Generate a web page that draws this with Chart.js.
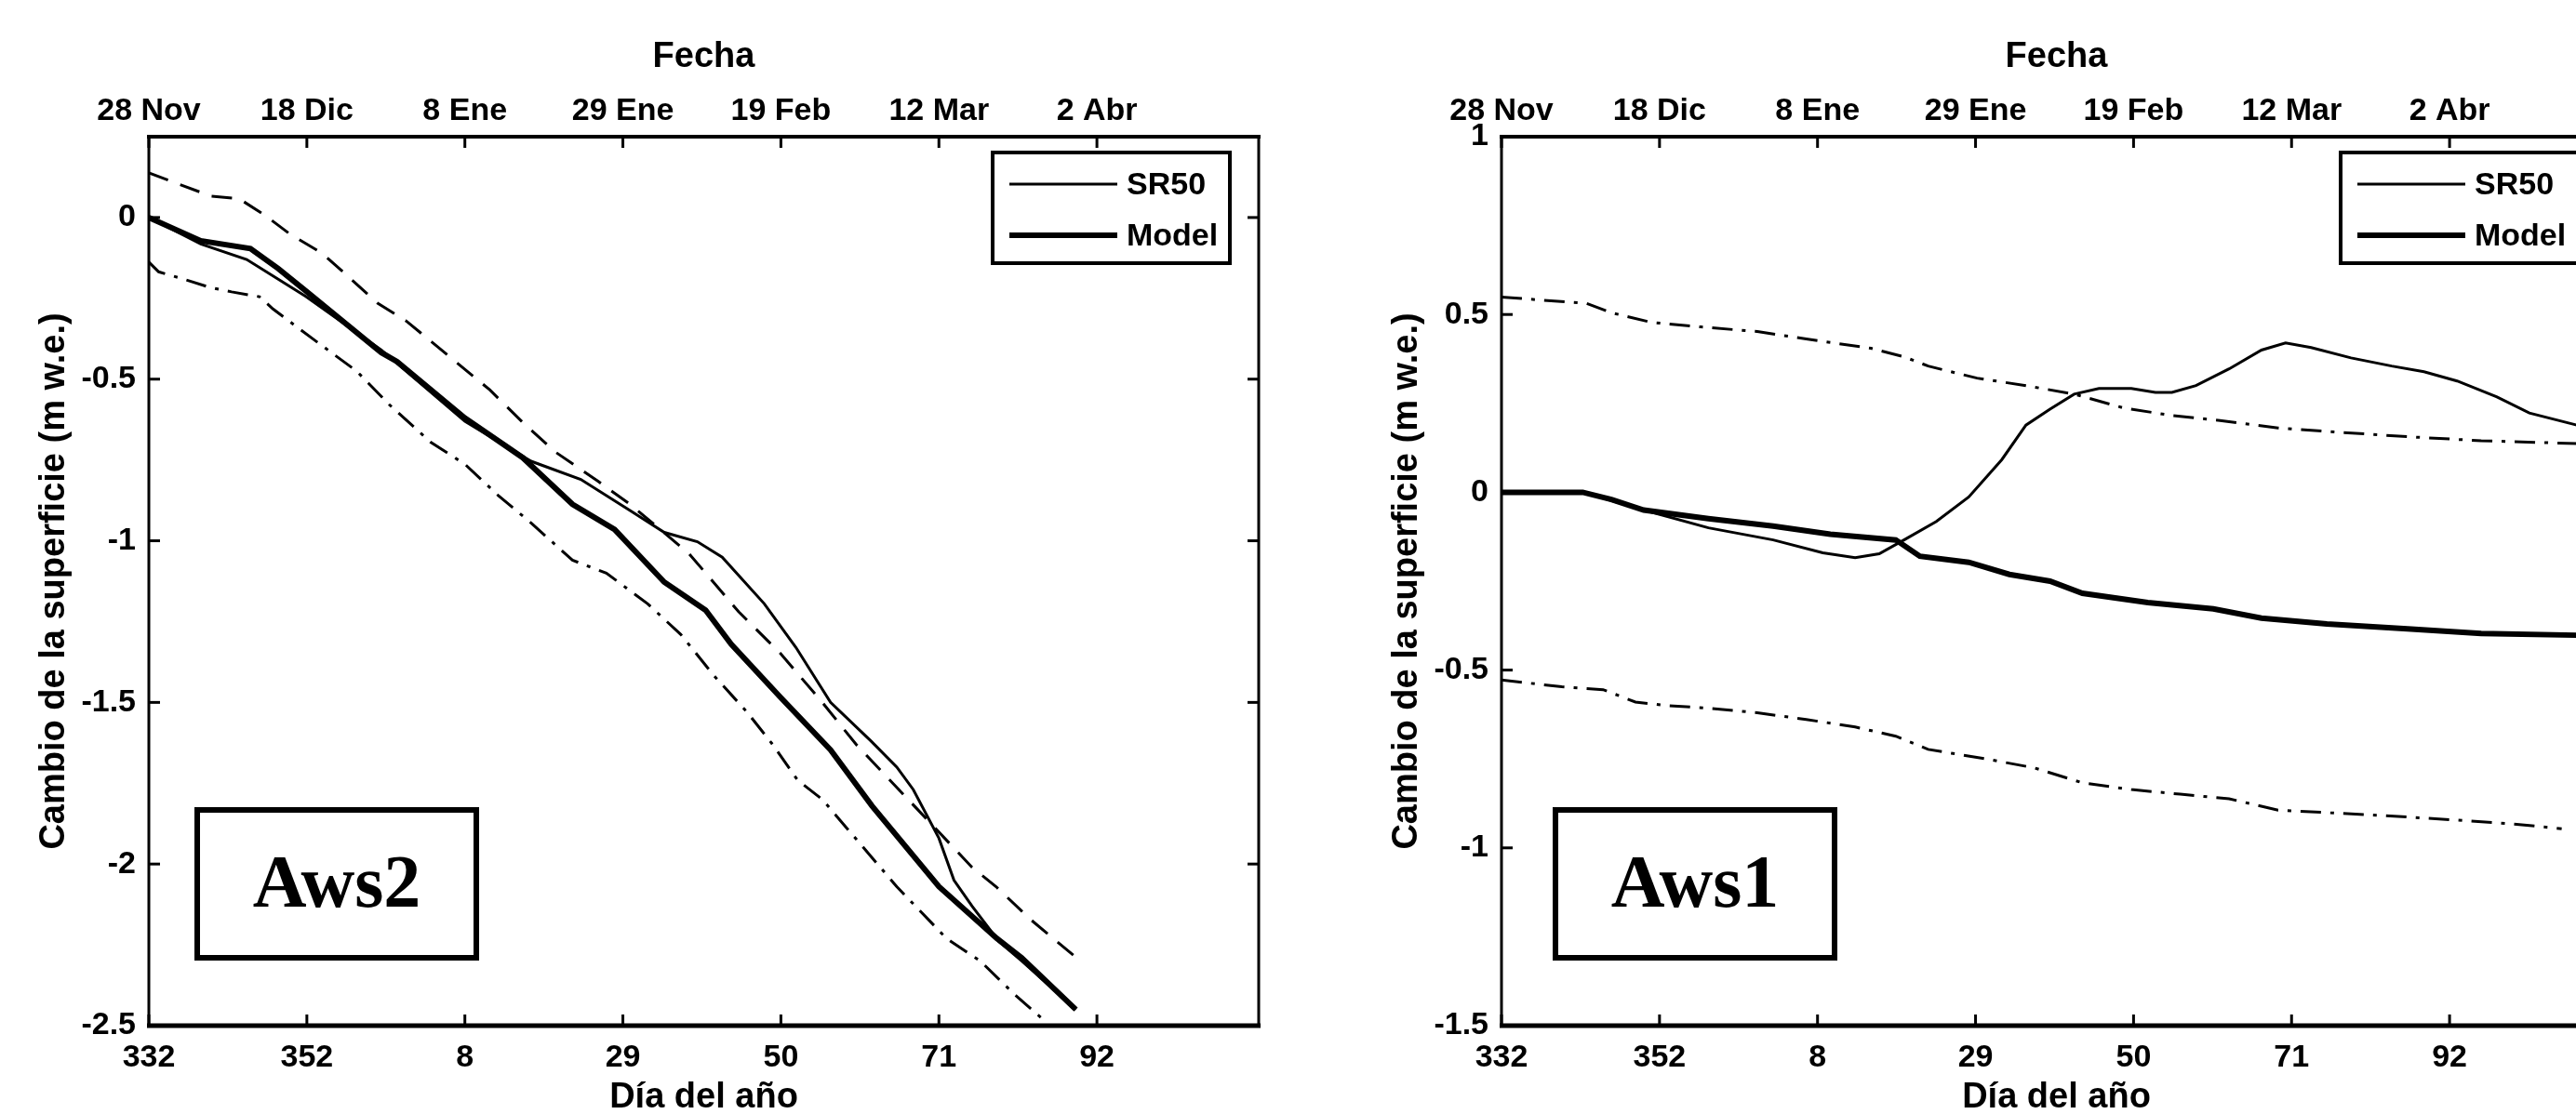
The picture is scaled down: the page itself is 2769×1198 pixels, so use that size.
<!DOCTYPE html>
<html><head><meta charset="utf-8">
<script src="https://cdn.jsdelivr.net/npm/chart.js@4.4.1/dist/chart.umd.min.js"></script>
<style>
html,body{margin:0;padding:0;background:#fff;overflow:hidden;width:2769px;height:1198px;position:relative;}
.wrap{position:absolute;top:0;width:1400px;height:1240px;}
#w1{left:0}
#w2{left:1454px}
canvas{display:block}
</style></head><body>
<div class="wrap" id="w1"><canvas id="c1" width="1400" height="1240"></canvas></div>
<div class="wrap" id="w2"><canvas id="c2" width="1400" height="1240"></canvas></div>
<script>
// ---- axis ticks / labels ----
const tickDays   = [332, 353, 374, 395, 416, 437, 458];
const dayLabels  = ['332', '352', '8', '29', '50', '71', '92'];
const dateLabels = ['28 Nov', '18 Dic', '8 Ene', '29 Ene', '19 Feb', '12 Mar', '2 Abr'];
const aws2YTicks = [-2.5, -2, -1.5, -1, -0.5, 0];
const aws1YTicks = [-1.5, -1, -0.5, 0, 0.5, 1];
const seriesNames = ['SR50', 'Model'];

// ---- Aws2 ----
const aws2ModelDay = [332, 338.9, 345.5, 349.2, 352.9, 362.9, 365, 374, 381.7, 388.3, 393.9, 400.5, 406, 409.4, 415.9, 422.6, 428.1, 437, 444.7, 448, 455.2];
const aws2ModelVal = [0, -0.072, -0.096, -0.158, -0.228, -0.418, -0.446, -0.62, -0.743, -0.887, -0.965, -1.128, -1.215, -1.32, -1.483, -1.647, -1.82, -2.07, -2.23, -2.29, -2.45];
const aws2SrDay = [332, 338.9, 345, 352.9, 362.9, 374, 382.8, 389.4, 396, 400.5, 404.9, 408.2, 413.8, 418, 422.6, 428, 431.4, 433.6, 437, 439, 441.4, 445, 448, 455.2];
const aws2SrVal = [0, -0.082, -0.13, -0.245, -0.41, -0.63, -0.754, -0.81, -0.907, -0.974, -1.003, -1.051, -1.195, -1.33, -1.5, -1.62, -1.7, -1.77, -1.92, -2.05, -2.13, -2.24, -2.3, -2.45];
const aws2UpDay = [332, 335.2, 340.3, 344, 347.3, 350.8, 355, 358.7, 362.4, 366.2, 372.3, 377.3, 381.7, 386, 391.7, 396, 403.8, 410.4, 416, 421.5, 426, 432.5, 441.4, 444.6, 449.1, 455.8];
const aws2UpVal = [0.138, 0.11, 0.066, 0.058, 0.009, -0.052, -0.11, -0.187, -0.265, -0.32, -0.437, -0.533, -0.634, -0.725, -0.816, -0.888, -1.04, -1.22, -1.35, -1.5, -1.63, -1.79, -2.01, -2.07, -2.17, -2.3];
const aws2LoDay = [332, 333.3, 336.8, 340.1, 343, 346.7, 348.5, 354, 359.6, 364, 369.5, 374, 378.4, 382.8, 388.3, 392.8, 398.3, 402.7, 407.1, 411.5, 414.9, 418.2, 421.5, 427, 431.4, 438, 442.5, 446.9, 451.3];
const aws2LoVal = [-0.138, -0.168, -0.192, -0.216, -0.23, -0.245, -0.283, -0.379, -0.475, -0.58, -0.696, -0.763, -0.859, -0.945, -1.06, -1.1, -1.195, -1.29, -1.417, -1.53, -1.63, -1.74, -1.8, -1.95, -2.07, -2.23, -2.3, -2.4, -2.49];

// ---- Aws1 ----
const aws1ModelDay = [332, 342.8, 346.6, 350.9, 359.5, 368.1, 375.7, 384.4, 387.6, 394.1, 399.5, 404.9, 409.2, 417.9, 426.6, 433, 441.7, 452.4, 462.2, 474.9];
const aws1ModelVal = [0, 0, -0.02, -0.05, -0.074, -0.095, -0.118, -0.134, -0.18, -0.197, -0.231, -0.25, -0.284, -0.31, -0.328, -0.354, -0.37, -0.384, -0.397, -0.402];
const aws1SrDay = [332, 342.8, 350.9, 359.5, 368.1, 374.7, 379, 382.2, 385.5, 389.8, 394.1, 398.5, 401.7, 404.9, 408.1, 411.4, 415.7, 418.9, 421.1, 424.3, 428.7, 433, 436.2, 439.6, 444.9, 450.3, 454.6, 459, 464.3, 468.6, 474.9];
const aws1SrVal = [0, 0, -0.05, -0.1, -0.134, -0.17, -0.184, -0.173, -0.134, -0.082, -0.013, 0.092, 0.189, 0.234, 0.276, 0.292, 0.292, 0.281, 0.281, 0.3, 0.347, 0.4, 0.42, 0.407, 0.378, 0.355, 0.339, 0.313, 0.268, 0.223, 0.189];
const aws1UpDay = [332, 343.3, 346.6, 351.9, 358.5, 366, 372.5, 381.1, 385.5, 388.7, 395.2, 401.7, 408.1, 414.7, 421.1, 427.5, 435.2, 443.8, 453.5, 462.2, 474.9];
const aws1UpVal = [0.549, 0.531, 0.505, 0.478, 0.465, 0.452, 0.431, 0.405, 0.381, 0.355, 0.321, 0.3, 0.276, 0.237, 0.216, 0.202, 0.181, 0.168, 0.155, 0.145, 0.137];
const aws1LoDay = [332, 340, 345.5, 349.8, 354.2, 359.5, 366, 372.5, 379, 384.4, 388.7, 396.2, 402.8, 409.2, 415.7, 422.2, 428.7, 435.2, 441.7, 449.2, 459, 466.5, 472.9];
const aws1LoVal = [-0.528, -0.547, -0.555, -0.59, -0.6, -0.607, -0.62, -0.639, -0.66, -0.686, -0.723, -0.749, -0.775, -0.817, -0.836, -0.849, -0.862, -0.894, -0.901, -0.909, -0.922, -0.933, -0.946];

const FONT = "'Liberation Sans', Arial, sans-serif";
const pts = (d, v) => d.map((x, i) => ({x: x, y: v[i]}));

const matlabPlugin = {
  id: 'matlab',
  afterDraw(chart, args, o) {
    const {ctx, chartArea: a, scales} = chart;
    ctx.save();
    ctx.strokeStyle = '#000';
    ctx.fillStyle = '#000';
    const seg = (x1, y1, x2, y2, w) => { ctx.lineWidth = w; ctx.beginPath(); ctx.moveTo(x1, y1); ctx.lineTo(x2, y2); ctx.stroke(); };
    scales.x.ticks.forEach(t => {
      const px = scales.x.getPixelForValue(t.value);
      seg(px, a.bottom, px, a.bottom - 12, 3);
      seg(px, a.top, px, a.top + 12, 3);
    });
    scales.y.ticks.forEach(t => {
      const py = scales.y.getPixelForValue(t.value);
      seg(a.left, py, a.left + 12, py, 3);
      seg(a.right, py, a.right - 12, py, 3);
    });
    // frame
    seg(a.left - 2, a.top, a.right + 2, a.top, 4);
    seg(a.left - 2, a.bottom, a.right + 2, a.bottom, 5);
    seg(a.left, a.top, a.left, a.bottom, 3);
    seg(a.right, a.top, a.right, a.bottom, 3);
    // legend box
    const lg = {l: a.right - o.legDx, r: a.right - 31, t: a.top + 17, b: a.top + 136};
    ctx.fillStyle = '#fff';
    ctx.fillRect(lg.l, lg.t, lg.r - lg.l, lg.b - lg.t);
    ctx.strokeStyle = '#000';
    ctx.lineWidth = 4;
    ctx.strokeRect(lg.l, lg.t, lg.r - lg.l, lg.b - lg.t);
    const rows = [lg.t + 34, lg.t + 89];
    const entries = chart.data.datasets.filter(d => seriesNames.includes(d.label));
    ctx.fillStyle = '#000';
    ctx.font = "bold 34px " + FONT;
    ctx.textBaseline = 'middle';
    ctx.textAlign = 'left';
    entries.forEach((d, i) => {
      seg(lg.l + 18, rows[i], lg.l + 134, rows[i], d.borderWidth);
      ctx.fillText(d.label, lg.l + 144, rows[i] + 2);
    });
    // station label box
    const b = {l: a.left + o.boxDx, t: 871, w: 300, h: 159};
    ctx.lineWidth = 6;
    ctx.strokeRect(b.l, b.t, b.w, b.h);
    ctx.font = "bold 80px 'Liberation Serif', 'Times New Roman', serif";
    ctx.textAlign = 'center';
    ctx.textBaseline = 'middle';
    ctx.fillText(o.station, b.l + b.w / 2, b.t + b.h / 2 + 4);
    ctx.restore();
  }
};

function makeChart(id, datasets, yMin, yMax, yTicks, station, legDx, boxDx) {
  const font = {family: FONT, size: 34, weight: 'bold'};
  const tfont = {family: FONT, size: 38, weight: 'bold'};
  return new Chart(document.getElementById(id), {
    type: 'line',
    data: {datasets: datasets},
    options: {
      responsive: false, animation: false, devicePixelRatio: 1,
      layout: {padding: {left: 0, right: 47, top: 0, bottom: 0}},
      elements: {point: {radius: 0}, line: {tension: 0}},
      plugins: {legend: {display: false}, tooltip: {enabled: false},
        matlab: {station: station, legDx: legDx, boxDx: boxDx}},
      scales: {
        x: {type: 'linear', position: 'bottom', min: 332, max: 479.5,
          afterBuildTicks: s => { s.ticks = tickDays.map(v => ({value: v})); },
          afterFit: s => { s.height = 137; },
          ticks: {font: font, color: '#000', padding: 14, maxRotation: 0, autoSkip: false,
            callback: (v, i) => dayLabels[i]},
          grid: {display: false, drawTicks: false}, border: {display: false},
          title: {display: true, text: 'Día del año', font: tfont, color: '#000', padding: {top: 0, bottom: 37}}},
        xTop: {type: 'linear', position: 'top', min: 332, max: 479.5,
          afterBuildTicks: s => { s.ticks = tickDays.map(v => ({value: v})); },
          afterFit: s => { s.height = 147; },
          ticks: {font: font, color: '#000', padding: 7, maxRotation: 0, autoSkip: false,
            callback: (v, i) => dateLabels[i]},
          grid: {display: false, drawTicks: false}, border: {display: false},
          title: {display: true, text: 'Fecha', font: tfont, color: '#000', padding: {top: 39, bottom: 0}}},
        y: {type: 'linear', position: 'left', min: yMin, max: yMax,
          afterBuildTicks: s => { s.ticks = yTicks.map(v => ({value: v})); },
          afterFit: s => { s.width = 160; },
          ticks: {font: font, color: '#000', padding: 14, callback: v => String(v)},
          grid: {display: false, drawTicks: false}, border: {display: false},
          title: {display: true, text: 'Cambio de la superficie (m w.e.)', font: tfont, color: '#000', padding: {top: 36, bottom: 0}}}
      }
    },
    plugins: [matlabPlugin]
  });
}

const ds = (label, d, v, w, dash) => ({label: label, data: pts(d, v), borderColor: '#000', backgroundColor: '#000', borderWidth: w, borderDash: dash || [], fill: false});

makeChart('c1', [
  ds('Upper', aws2UpDay, aws2UpVal, 3, [22, 14]),
  ds('Lower', aws2LoDay, aws2LoVal, 3, [22, 10, 4, 10]),
  ds('SR50', aws2SrDay, aws2SrVal, 3),
  ds('Model', aws2ModelDay, aws2ModelVal, 6)
], -2.5, 0.25, aws2YTicks, 'Aws2', 286, 52);

makeChart('c2', [
  ds('Upper', aws1UpDay, aws1UpVal, 3, [22, 10, 4, 10]),
  ds('Lower', aws1LoDay, aws1LoVal, 3, [22, 10, 4, 10]),
  ds('SR50', aws1SrDay, aws1SrVal, 3),
  ds('Model', aws1ModelDay, aws1ModelVal, 6)
], -1.5, 1.0, aws1YTicks, 'Aws1', 291, 58);
</script>
</body></html>
